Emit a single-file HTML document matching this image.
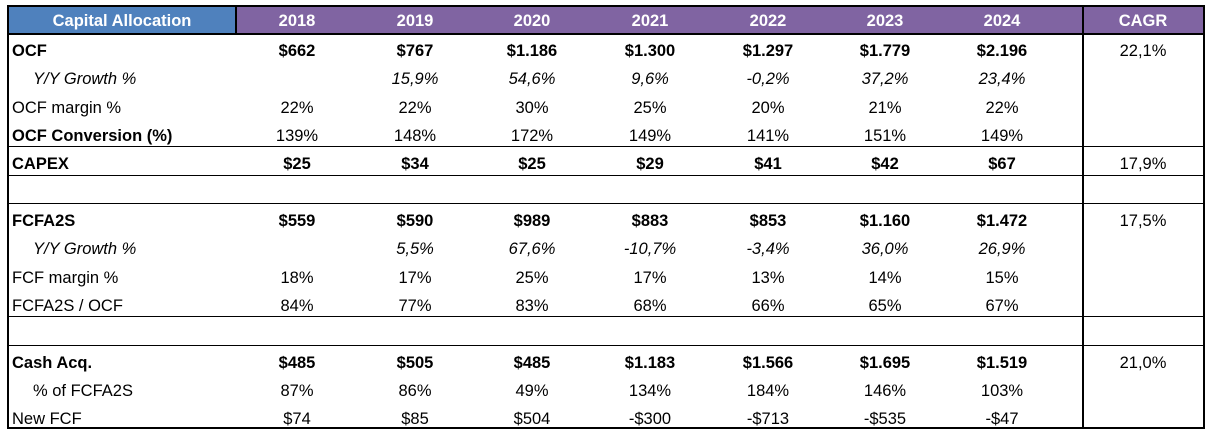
<!DOCTYPE html>
<html><head><meta charset="utf-8"><style>
body{margin:0;width:1212px;height:437px;background:#fff;position:relative;overflow:hidden;font-family:"Liberation Sans",sans-serif;color:#000}
.c{position:absolute;white-space:nowrap;font-size:16.5px;line-height:28px}
</style></head><body>
<div id="t"></div>
<script>
const years=["2018","2019","2020","2021","2022","2023","2024"];
const labels=["OCF","Y/Y Growth %","OCF margin %","OCF Conversion (%)","CAPEX","","FCFA2S","Y/Y Growth %","FCF margin %","FCFA2S / OCF","","Cash Acq.","% of FCFA2S","New FCF"];
const labelStyles=["b","i","n","b","b","n","b","i","n","n","n","b","n","n"];
const valueStyles=["b","i","n","n","b","n","b","i","n","n","n","b","n","n"];
const indents=[0,1,0,0,0,0,0,1,0,0,0,0,1,0];
const values=[
["$662","$767","$1.186","$1.300","$1.297","$1.779","$2.196"],
["","15,9%","54,6%","9,6%","-0,2%","37,2%","23,4%"],
["22%","22%","30%","25%","20%","21%","22%"],
["139%","148%","172%","149%","141%","151%","149%"],
["$25","$34","$25","$29","$41","$42","$67"],
["","","","","","",""],
["$559","$590","$989","$883","$853","$1.160","$1.472"],
["","5,5%","67,6%","-10,7%","-3,4%","36,0%","26,9%"],
["18%","17%","25%","17%","13%","14%","15%"],
["84%","77%","83%","68%","66%","65%","67%"],
["","","","","","",""],
["$485","$505","$485","$1.183","$1.566","$1.695","$1.519"],
["87%","86%","49%","134%","184%","146%","103%"],
["$74","$85","$504","-$300","-$713","-$535","-$47"]];
const cagr=["22,1%","","","","17,9%","","17,5%","","","","","21,0%","",""];
const t=document.getElementById('t');
const centers=[297,415,532,650,768,885,1002];
const top0=34,pitch=28.33;
function box(x,y,w,h,bg,name){const d=document.createElement('div');d.style.cssText=`position:absolute;left:${x}px;top:${y}px;width:${w}px;height:${h}px;background:${bg}`;


t.appendChild(d);return d;}
function txt(s,x,y,center,cls,name){const d=document.createElement('div');d.className='c';d.textContent=s;
d.style.top=y+'px';
if(center){d.style.left=(x-100)+'px';d.style.width='200px';d.style.textAlign='center';}else d.style.left=x+'px';
if(cls==='b')d.style.fontWeight='bold';if(cls==='i')d.style.fontStyle='italic';


t.appendChild(d);return d;}
box(8,6,228,28,'#4F81BD','header-label-cell');
box(236,6,968,28,'#8064A2','header-years-cell');
const h=txt('Capital Allocation',122,7,true,'b','header-title');h.style.color='#fff';
years.forEach((y,i)=>{const e=txt(y,centers[i],7,true,'b','header-year-'+y);e.style.color='#fff';});
const hc=txt('CAGR',1143,7,true,'b','header-cagr');hc.style.color='#fff';
labels.forEach((l,r)=>{const y=top0+r*pitch+3;
 if(l)txt(l,indents[r]?33:12,y,false,labelStyles[r],'row-label-'+r);
 values[r].forEach((v,i)=>{if(v)txt(v,centers[i],y,true,valueStyles[r],'cell-'+r+'-'+i);});
 if(cagr[r])txt(cagr[r],1143,y,true,'n','cagr-'+r);
});
function ln(x,y,w,hh,name){box(x,y,w,hh,'#000',name);}
ln(7,5,1198,2,'border-top');
ln(7,5,2,424,'border-left');
ln(1203,5,2,424,'border-right');
ln(7,427,1198,2,'border-bottom');
ln(7,33,1198,2,'header-bottom');
ln(235,6,2,28,'header-divider');
ln(1082,6,2,422,'cagr-divider');
[4,5,6,10,11].forEach(r=>ln(8,Math.round(top0+r*pitch)-1,1196,1,'row-separator-'+r));
</script>
</body></html>
